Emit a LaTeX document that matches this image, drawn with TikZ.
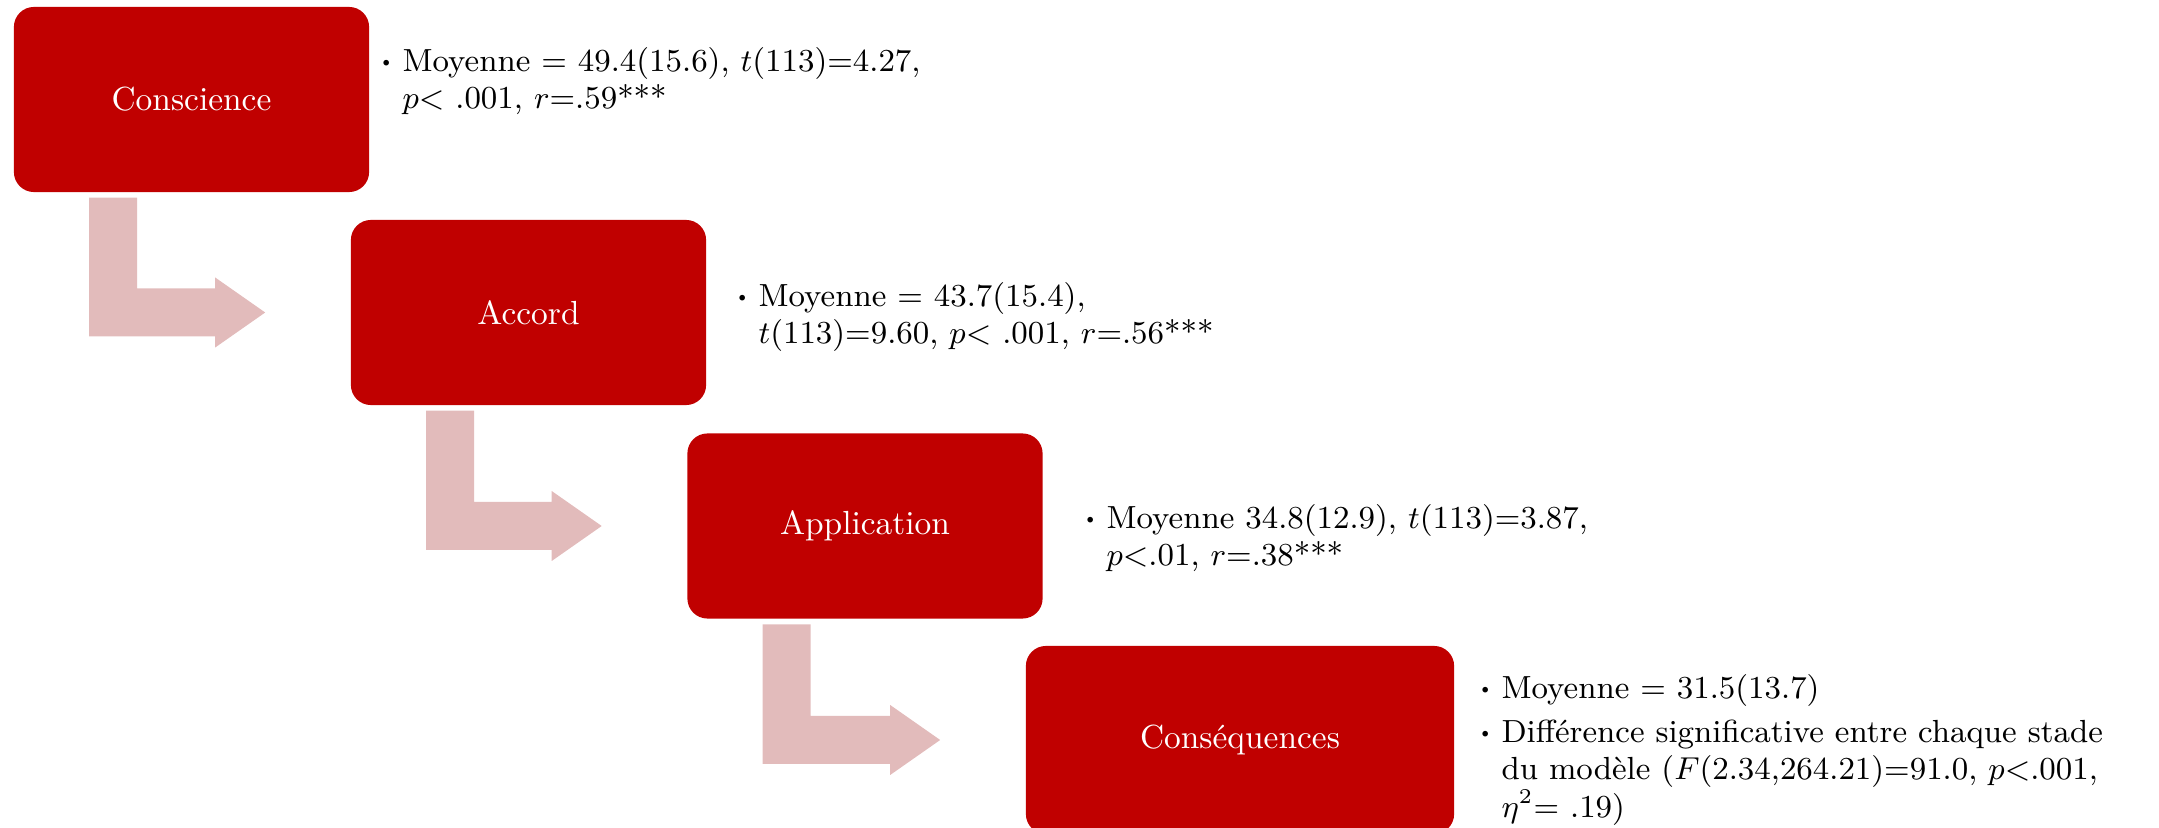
\documentclass[tikz,border=0pt]{standalone}
\usepackage{tikz}
\usepackage{graphicx}
\usetikzlibrary{calc, positioning}
\definecolor{rouge}{RGB}{192,0,0}
\definecolor{rose}{RGB}{226,187,187}
\newcommand{\puce}{\raisebox{0.3ex}{\scalebox{0.6}{\textbullet}}\kern0.85mm}
\newcommand{\coude}[2]{%
  \fill[rose] ($(#1.south west)+(76,5)$) -- ++(48,0) |- ($(#2.west)+(-135,-24)$) -- ++(0,-11)
    -- ($(#2.west)+(-85,0)$) -- ($(#2.west)+(-135,35)$) -- ++(0,-11) -| ($(#1.south west)+(76,5)$) -- cycle;}

\begin{document}
\begin{tikzpicture}[x=0.01cm, y=-0.01cm,
    etape/.style={fill=rouge, rounded corners=0.2cm, minimum width=3.55cm, minimum height=1.85cm,
      text=white, font=\fontsize{9.5}{11}\selectfont},
    stat/.style={anchor=base west, inner sep=0pt, font=\fontsize{9.1}{10.4}\selectfont}]
    \useasboundingbox (0,0) rectangle (2159,828);
    \node[etape] (conscience) at (191.5,99.5) {Conscience};
    \node[etape] (accord) at (528.5,312.5) {Accord};
    \node[etape] (application) at (865,526) {Application};
    \node[etape, minimum width=4.28cm, minimum height=1.88cm] (consequences) at (1240,740) {Conséquences};
    \coude{conscience}{accord}
    \coude{accord}{application}
    \coude{application}{consequences}
    \node[stat] (stat1) at (378,72) {\begin{tabular}[t]{@{}l@{}l@{}}
      \puce & Moyenne = 49.4(15.6), $t$(113)=4.27,\\
      & $p$< .001, $r$=.59***\end{tabular}};
    \node[stat] (stat2) at (734,307) {\begin{tabular}[t]{@{}l@{}l@{}}
      \puce & Moyenne = 43.7(15.4),\\
      & $t$(113)=9.60, $p$< .001, $r$=.56***\end{tabular}};
    \node[stat] (stat3) at (1082,529) {\begin{tabular}[t]{@{}l@{}l@{}}
      \puce & Moyenne 34.8(12.9), $t$(113)=3.87,\\
      & $p$<.01, $r$=.38***\end{tabular}};
    \node[stat] (stat4) at (1477,699) {\begin{tabular}[t]{@{}l@{}l@{}}
      \puce & Moyenne = 31.5(13.7)\\[0.7mm]
      \puce & Différence significative entre chaque stade\\
      & du modèle ($F$(2.34,264.21)=91.0, $p$<.001,\\
      & $\eta^2$= .19)\end{tabular}};
\end{tikzpicture}
\end{document}
